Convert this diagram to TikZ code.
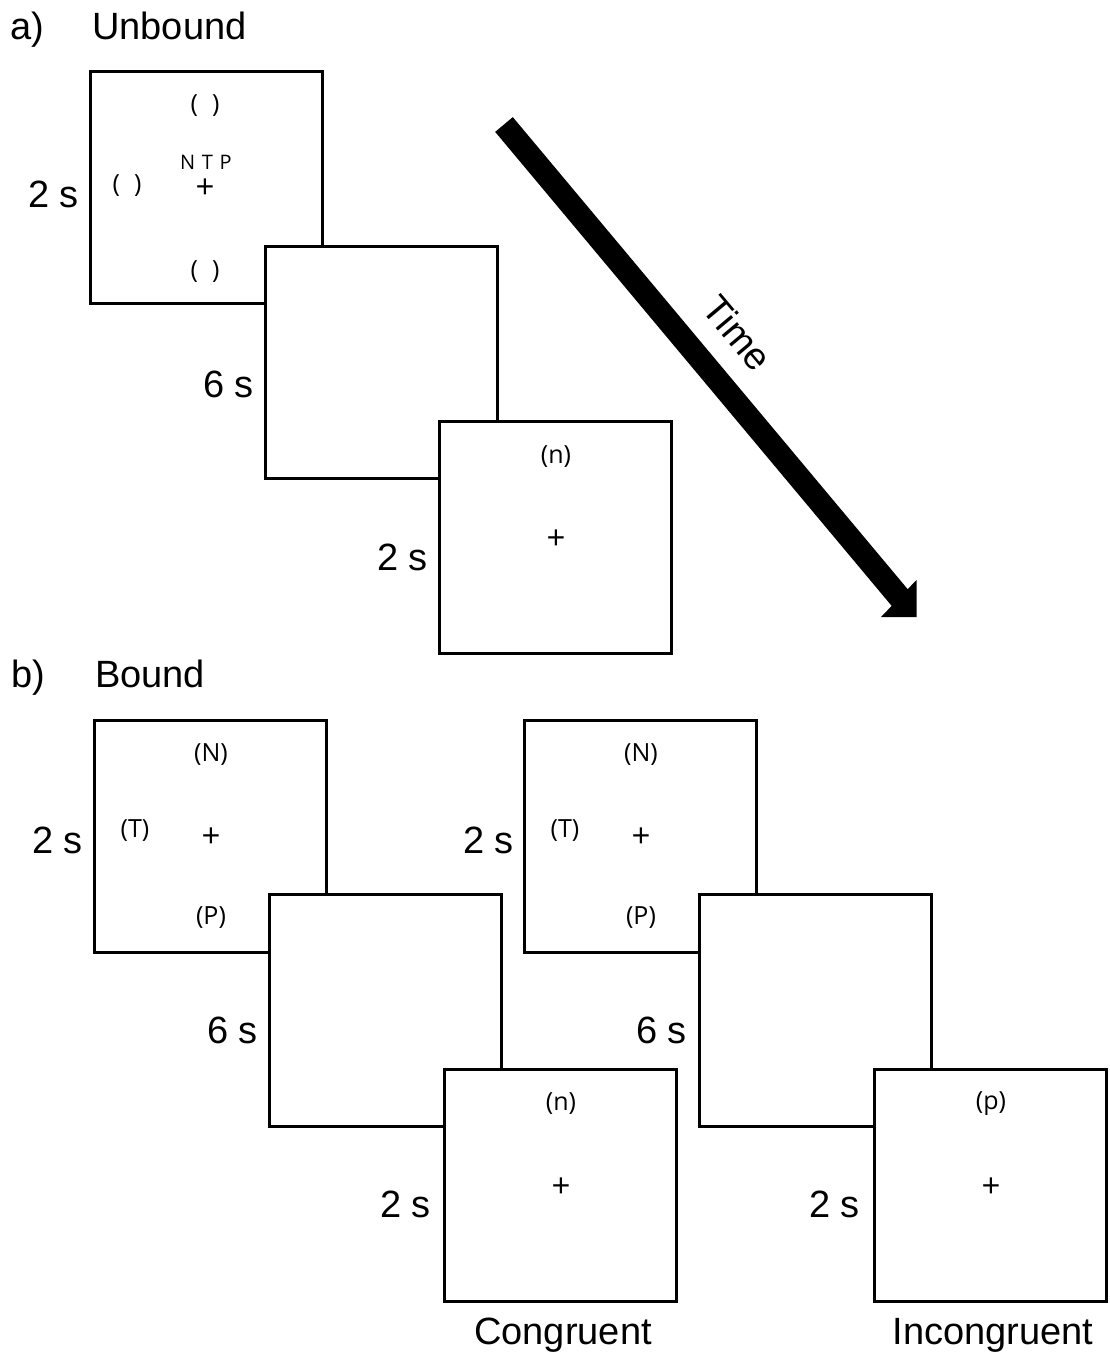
\documentclass[tikz,border=0pt]{standalone}
\usepackage{fontspec}
\setmainfont{Liberation Sans}
\newfontfamily\contfont{Open Sans}
\begin{document}
\begin{tikzpicture}[x=1pt,y=-1pt,
  scr/.style={draw, line width=3pt, fill=white, minimum width=232pt, minimum height=232pt, inner sep=0pt},
  dur/.style={font=\fontsize{38}{40}\selectfont, inner sep=0pt, anchor=base east},
  ttl/.style={font=\fontsize{38}{40}\selectfont, inner sep=0pt, anchor=base west},
  lbl/.style={font=\fontsize{38}{40}\selectfont, inner sep=0pt, anchor=base},
  cont/.style={font=\contfont\fontsize{25}{28}\selectfont, inner sep=0pt},
  fix/.style={font=\contfont\fontsize{33}{36}\selectfont, inner sep=0pt},
  ntp/.style={font=\contfont\fontsize{20}{24}\selectfont, inner sep=0pt}]
\useasboundingbox (0,0) rectangle (1110,1355);
% ---------- panel a ----------
\node[ttl] (ta) at (10,39) {a)};
\node[ttl] (tua) at (92,39) {Unbound};
\node[scr] (a1) at (206,187.5) {};
\node[scr] (a2) at (381,362.5) {};
\node[scr] (a3) at (555.5,537.5) {};
\node[dur] (da1) at (79,207) {2 s};
\node[dur] (da2) at (254,397) {6 s};
\node[dur] (da3) at (428,570) {2 s};
\node[cont] (a1t) at (205,106) {(\hspace{14pt})};
\node[cont] (a1l) at (127,186) {(\hspace{14pt})};
\node[cont] (a1b) at (205,272) {(\hspace{14pt})};
\node[ntp] (a1n) at (206,162) {N\,\,T\,\,P};
\node[fix] (a1p) at (205,189) {+};
\node[cont] (a3t) at (556,457) {(n)};
\node[fix] (a3p) at (556,540) {+};
% time arrow
\draw[line width=23pt] (504,124.5) -- (903,601.5);
\fill (916.5,580) -- (916.5,617) -- (881,617) -- cycle;
\node[font=\fontsize{38}{40}\selectfont, rotate=-50, inner sep=0pt] (time) at (738,333) {Time};
% ---------- panel b ----------
\node[ttl] (tb) at (11,687) {b)};
\node[ttl] (tbb) at (95,687) {Bound};
\node[scr] (b1) at (210.5,836) {};
\node[scr] (b2) at (385.5,1010.5) {};
\node[scr] (b3) at (560.5,1185) {};
\node[scr] (c1) at (640.5,836) {};
\node[scr] (c2) at (815.5,1010.5) {};
\node[scr] (c3) at (990.5,1185) {};
\node[dur] (db1) at (83,853) {2 s};
\node[dur] (db2) at (258,1043) {6 s};
\node[dur] (db3) at (431,1217) {2 s};
\node[dur] (dc1) at (514,853) {2 s};
\node[dur] (dc2) at (687,1043) {6 s};
\node[dur] (dc3) at (860,1217) {2 s};
% B1 contents
\node[cont] (b1n) at (211,755) {(N)};
\node[cont] (b1t) at (135,831) {(T)};
\node[fix] (b1p) at (211,838) {+};
\node[cont] (b1q) at (211,918) {(P)};
% C1 contents
\node[cont] (c1n) at (641,755) {(N)};
\node[cont] (c1t) at (565,831) {(T)};
\node[fix] (c1p) at (641,838) {+};
\node[cont] (c1q) at (641,918) {(P)};
% B3 / C3 contents
\node[cont] (b3n) at (561,1104) {(n)};
\node[fix] (b3p) at (561,1188) {+};
\node[cont] (c3n) at (991,1104) {(p)};
\node[fix] (c3p) at (991,1188) {+};
\node[lbl] (cong) at (563,1344) {Congruent};
\node[lbl] (incong) at (993,1344) {Incongruent};
\end{tikzpicture}
\end{document}
